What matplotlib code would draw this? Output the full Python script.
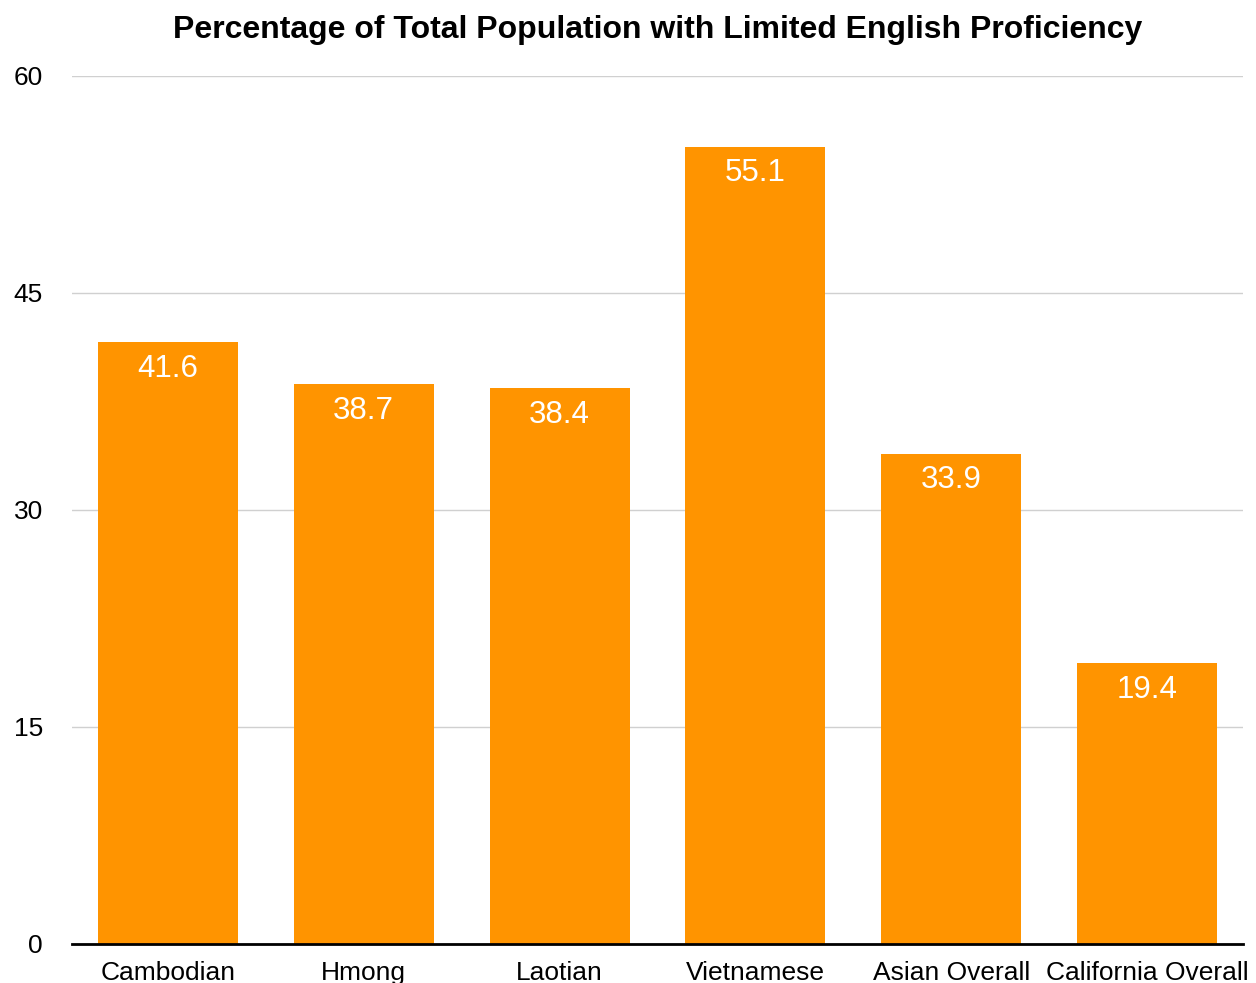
import matplotlib.pyplot as plt

plt.rcParams['font.family'] = ['Liberation Sans', 'DejaVu Sans']

groups = ["Cambodian", "Hmong", "Laotian", "Vietnamese", "Asian Overall", "California Overall"]
pct_lep = [41.6, 38.7, 38.4, 55.1, 33.9, 19.4]
yticks = [0, 15, 30, 45, 60]

fig = plt.figure(figsize=(12.56, 9.83), dpi=100)
ax = fig.add_axes([0.0573, 0.0397, 0.9324, 0.8830])

x = range(len(groups))
bars = ax.bar(x, pct_lep, width=0.715, color='#ff9400', zorder=2)

for xi, v in zip(x, pct_lep):
    ax.annotate(f"{v:.1f}", (xi, v), xytext=(0, -19), textcoords='offset points',
                ha='center', va='center', color='white', fontsize=22.5, zorder=3)

ax.set_xlim(-0.49, 5.49)
ax.set_ylim(0, 60)
ax.set_yticks(yticks)
ax.set_xticks(list(x))
ax.set_xticklabels(groups)
ax.yaxis.grid(True, color='#d0d0d0', linewidth=1.0, zorder=0)
ax.set_axisbelow(True)

for s in ['top', 'right', 'left']:
    ax.spines[s].set_visible(False)
ax.spines['bottom'].set_linewidth(2)
ax.spines['bottom'].set_color('black')
ax.spines['bottom'].set_zorder(4)

ax.tick_params(axis='y', length=0, pad=21, labelsize=19)
ax.tick_params(axis='x', length=0, pad=12, labelsize=19)

ax.set_title("Percentage of Total Population with Limited English Proficiency",
             fontsize=23, fontweight='bold', pad=27)

plt.savefig("out.png", dpi=100)
